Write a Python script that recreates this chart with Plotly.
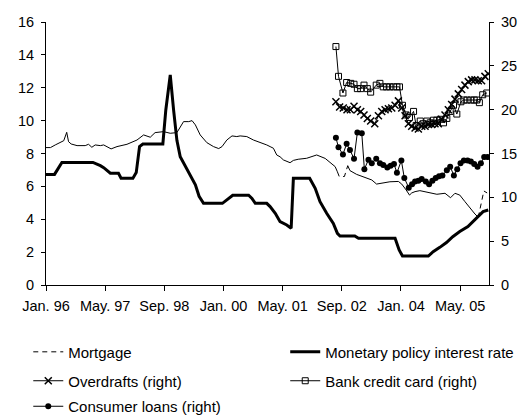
import plotly.graph_objects as go

# x values are months counted from Jan. 1996 (= 0)
tick_months = [0, 16, 32, 48, 64, 80, 96, 112]
tick_labels = ["Jan. 96", "May. 97", "Sep. 98", "Jan. 00", "May. 01", "Sep. 02", "Jan. 04", "May. 05"]

# Monetary policy interest rate (left axis)
policy_month = [0, 2.3, 4.3, 12.7, 14.7, 15.6, 17.4, 19.6, 20.3, 23.5, 24.4, 25.3, 26.2, 31.6,
                32.4, 33.6, 34.5, 35.4, 36.3, 37.7, 39, 40.4, 41.4, 42.6, 47.7, 48.9, 50.5, 54.8,
                55.7, 56.6, 59.7, 60.6, 62, 63.3, 65.1, 66.3, 66.9, 71.3, 72.8, 74.1, 75.9, 77.7,
                78.8, 79.5, 83.5, 84.5, 94.4, 95.5, 96.4, 103.4, 104.7, 106.5, 108.3, 110, 111.9,
                114.1, 116.4, 118.2, 119.6]
policy_rate = [6.73, 6.73, 7.46, 7.46, 7.26, 7.14, 6.8, 6.8, 6.5, 6.5, 6.84, 8.42, 8.58, 8.58,
               10.65, 12.78, 10.65, 8.8, 7.8, 7.2, 6.7, 6.1, 5.4, 4.97, 4.97, 5.17, 5.46, 5.46,
               5.27, 4.97, 4.97, 4.77, 4.36, 3.85, 3.65, 3.45, 6.49, 6.49, 5.88, 5.07, 4.36, 3.75,
               3.14, 2.98, 2.98, 2.84, 2.84, 2.13, 1.76, 1.76, 2.03, 2.29, 2.58, 2.94, 3.25,
               3.55, 4.06, 4.46, 4.56]

# Mortgage (left axis), thin line with a gap
mortgage_month = [0, 1.2, 2.5, 3.9, 4.8, 5.6, 6.1, 6.8, 8.4, 10.6, 11.5, 12.4, 13.3, 14.7, 15.6,
                  17.6, 19.2, 21.9, 24.6, 26.4, 28.2, 29.5, 31.8, 33.6, 35.4, 37.2, 38.6, 39.5,
                  40.4, 41.7, 43.5, 45.3, 46.7, 47.6, 48.9, 50.3, 51.6, 52.5, 54.3, 56.1, 57.9,
                  59.7, 60.6, 61.5, 62.4, 63.3, 64.2, 66, 66.9, 68.2, 70.5, 73.2, 75.5, 77.3,
                  78.2, 78.8, None, 81.6, 82.2, 84, 86.3, 88.1, 89.4, 90.8, 93, 95.3, 96.2, 97.4,
                  98.3, 98.9, 99.8, 101.1, 103.9, 105.7, 107.9, 109.4, 110.6, 111.9, 113.3,
                  114.7, 116, 116.9]
mortgage_rate = [8.36, 8.36, 8.52, 8.68, 8.78, 9.29, 8.72, 8.58, 8.48, 8.48, 8.56, 8.38, 8.52,
                 8.48, 8.52, 8.28, 8.42, 8.56, 8.82, 9.13, 8.99, 9.27, 9.33, 9.23, 9.27, 9.94,
                 9.94, 10.0, 9.74, 9.13, 8.66, 8.42, 8.3, 8.42, 8.82, 9.07, 9.03, 9.07, 9.03,
                 8.82, 8.68, 8.52, 8.42, 8.32, 7.91, 7.8, 7.61, 7.44, 7.58, 7.65, 7.71, 7.91,
                 7.7, 7.4, 7.2, 6.89, None, 7.26, 6.96, 6.73, 6.55, 6.39, 6.14, 6.2, 6.28, 6.3,
                 6.14, 5.78, 5.47, 5.6, 5.68, 5.74, 5.62, 5.52, 5.58, 5.31, 5.58, 5.47, 5.07,
                 4.66, 4.32, 4.12]
# dashed mortgage pieces that show where it leaves the thin line
mortgage_dash_month = [78.8, 79.3, 80.7, 81.6, None, 116.9, 117.8, 118.4, 119.3]
mortgage_dash_rate = [6.89, 6.6, 6.6, 7.26, None, 4.12, 5.17, 5.72, 5.6]

# Overdrafts (right axis)
overdraft_month = [78.4, 79.4, 80.4, 81.4, 82.3, 83.3, 84.2, 85.1, 86.0, 86.9, 87.8, 88.9, 89.9,
                   90.8, 91.7, 92.6, 93.5, 94.4, 95.3, 96.2, 97.1, 98.0, 98.9, 99.8, 100.7,
                   101.6, 102.5, 103.4, 104.3, 105.2, 106.1, 107.0, 107.9, 108.8, 109.7, 110.6,
                   111.5, 112.4, 113.3, 114.2, 115.1, 116.0, 116.9, 117.8, 118.7, 119.6]
overdraft_rate = [20.9, 20.3, 20.2, 20.0, 20.0, 20.4, 20.0, 19.8, 19.4, 19.0, 18.7, 18.4, 19.3,
                  19.8, 20.0, 20.1, 20.2, 20.5, 21.0, 20.2, 19.3, 18.4, 18.1, 17.9, 17.8, 18.1,
                  18.1, 18.3, 18.3, 18.4, 18.4, 18.9, 19.4, 20.0, 20.6, 21.2, 21.8, 22.3, 22.8,
                  23.2, 23.4, 23.4, 23.3, 23.3, 23.8, 24.1]

# Bank credit card (right axis)
card_month = [78.4, 79.1, 80.3, 81.3, 82.4, 83.3, 84.2, 85.1, 86.0, 86.9, 87.8, 89.3, 90.3,
              91.2, 92.1, 93.0, 94.0, 94.9, 95.6, 96.4, 97.4, 98.3, 99.4, 100.1, 101.2, 102.0,
              103.0, 103.9, 104.8, 105.7, 106.6, 107.5, 108.4, 109.3, 110.2, 111.1, 112.2,
              113.0, 113.9, 114.9, 115.8, 116.5, 117.2, 118.1, 119.2]
card_rate = [27.2, 23.8, 21.9, 23.1, 23.0, 22.9, 22.4, 22.4, 22.8, 22.4, 22.0, 22.8, 23.0, 22.6,
             22.6, 22.6, 22.6, 22.6, 22.6, 20.5, 19.4, 19.1, 19.8, 18.2, 18.7, 18.4, 18.7, 18.5,
             18.8, 18.8, 18.9, 18.5, 19.0, 19.8, 20.5, 19.5, 20.9, 21.1, 21.1, 21.1, 21.1, 21.1,
             20.8, 21.7, 21.9]

# Consumer loans (right axis)
loans_month = [78.4, 79.1, 80.3, 81.3, 82.2, 83.3, 84.2, 85.4, 86.1, 87.2, 88.1, 89.3, 90.3,
               91.2, 92.3, 93.2, 94.1, 94.9, 96.1, 96.9, 98.1, 99.0, 99.8, 100.7, 101.6, 102.7,
               103.6, 104.5, 105.4, 106.3, 107.2, 108.4, 109.3, 110.3, 111.2, 112.1, 113.0,
               114.0, 114.9, 115.8, 116.7, 117.6, 118.5, 119.4]
loans_rate = [16.8, 15.7, 14.9, 16.1, 15.4, 14.4, 17.4, 17.3, 13.2, 14.3, 13.9, 14.4, 13.9, 13.7,
              13.4, 13.6, 13.8, 12.8, 14.2, 12.2, 11.1, 11.5, 11.8, 11.9, 12.1, 11.8, 11.5, 11.9,
              12.2, 12.4, 12.5, 13.1, 13.5, 12.5, 13.2, 13.9, 14.2, 14.2, 14.1, 13.8, 13.5, 13.9,
              14.6, 14.6]

font = dict(family="Arial, Liberation Sans, sans-serif", size=15, color="black")
tickfont = dict(family="Arial, Liberation Sans, sans-serif", size=14.5, color="black")

fig = go.Figure()

fig.add_trace(go.Scatter(x=mortgage_month, y=mortgage_rate, mode="lines", name="Mortgage",
                         line=dict(color="black", width=1), showlegend=False, connectgaps=False))
fig.add_trace(go.Scatter(x=mortgage_dash_month, y=mortgage_dash_rate, mode="lines", name="Mortgage",
                         line=dict(color="black", width=1, dash="5px,4px"), legend="legend"))
fig.add_trace(go.Scatter(x=policy_month, y=policy_rate, mode="lines",
                         name="Monetary policy interest rate",
                         line=dict(color="black", width=3), legend="legend2"))
fig.add_trace(go.Scatter(x=overdraft_month, y=overdraft_rate, mode="lines+markers",
                         name="Overdrafts (right)", yaxis="y2",
                         line=dict(color="black", width=1),
                         marker=dict(symbol="x-thin", size=7, line=dict(color="black", width=1.5)),
                         legend="legend3"))
fig.add_trace(go.Scatter(x=card_month, y=card_rate, mode="lines+markers",
                         name="Bank credit card (right)", yaxis="y2",
                         line=dict(color="black", width=1),
                         marker=dict(symbol="square-open", size=6, color="black",
                                     line=dict(color="black", width=1)),
                         legend="legend4"))
fig.add_trace(go.Scatter(x=loans_month, y=loans_rate, mode="lines+markers",
                         name="Consumer loans (right)", yaxis="y2",
                         line=dict(color="black", width=1),
                         marker=dict(symbol="circle", size=6, color="black"),
                         legend="legend5"))

# the page puts the figure 8px in from the top-left corner, so the figure is a bit smaller
leg = dict(font=font, bgcolor="rgba(0,0,0,0)", xanchor="left", yanchor="middle")
col1, col2 = -0.04, 0.54
row1, row2, row3 = -0.255, -0.365, -0.462

fig.update_layout(
    width=522, height=407,
    margin=dict(l=38, r=41, t=14, b=130, autoexpand=False),
    paper_bgcolor="white", plot_bgcolor="white",
    font=font,
    xaxis=dict(range=[0, 119.8], tickvals=tick_months, ticktext=tick_labels, tickfont=tickfont,
               showline=True, linecolor="black", linewidth=1, ticks="outside",
               ticklen=5, tickcolor="black", showgrid=False, zeroline=False,
               ticklabelstandoff=3),
    yaxis=dict(range=[0, 16], dtick=2, tickfont=tickfont, showline=True, linecolor="black",
               linewidth=1, ticks="outside", ticklen=4, tickcolor="black", showgrid=False,
               zeroline=False, ticklabelstandoff=4),
    yaxis2=dict(range=[0, 30], dtick=5, tickfont=tickfont, overlaying="y", side="right",
                showline=True, linecolor="black", linewidth=1, ticks="outside", ticklen=4,
                tickcolor="black", showgrid=False, zeroline=False, ticklabelstandoff=4),
    legend=dict(leg, x=col1, y=row1),
    legend2=dict(leg, x=col2, y=row1),
    legend3=dict(leg, x=col1, y=row2),
    legend4=dict(leg, x=col2, y=row2),
    legend5=dict(leg, x=col1, y=row3),
)

fig.write_html("out.html")
